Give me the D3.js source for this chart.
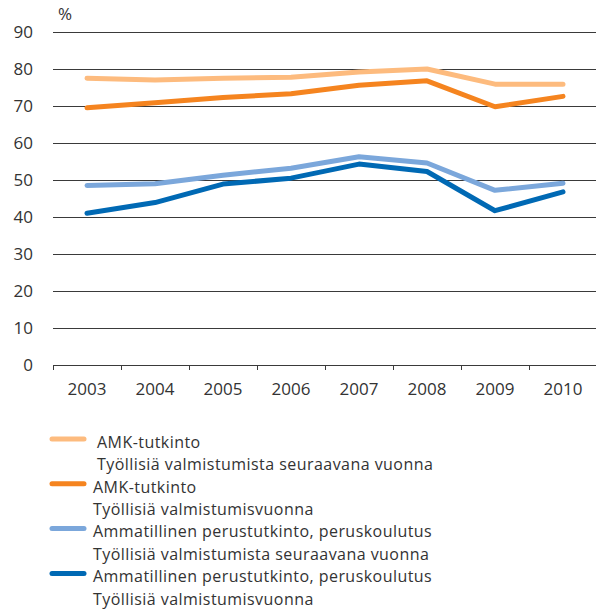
<!DOCTYPE html>
<html>
<head>
<meta charset="utf-8">
<script src="https://cdn.jsdelivr.net/npm/d3@7"></script>
<style>
  body { margin: 0; background: #fff; }
  text { font-family: "Open Sans", "DejaVu Sans", sans-serif; fill: #333; }
</style>
</head>
<body>
<svg id="chart" width="596" height="609"></svg>
<script>
// data
var years = ["2003", "2004", "2005", "2006", "2007", "2008", "2009", "2010"];
var amkNext = [77.5, 77.0, 77.5, 77.8, 79.2, 80.0, 75.9, 75.9];
var amkSame = [69.5, 70.9, 72.3, 73.3, 75.6, 76.8, 69.8, 72.6];
var ammNext = [48.5, 49.0, 51.3, 53.2, 56.3, 54.6, 47.2, 49.1];
var ammSame = [41.0, 43.9, 48.9, 50.5, 54.3, 52.3, 41.7, 46.8];
var yTicks = [0, 10, 20, 30, 40, 50, 60, 70, 80, 90];

var series = [
  { values: amkNext, color: "#fdbb7e", label: ["AMK-tutkinto", "Työllisiä valmistumista seuraavana vuonna"], dx: 4 },
  { values: amkSame, color: "#f5841f", label: ["AMK-tutkinto", "Työllisiä valmistumisvuonna"], dx: 0 },
  { values: ammNext, color: "#7ba7db", label: ["Ammatillinen perustutkinto, peruskoulutus", "Työllisiä valmistumista seuraavana vuonna"], dx: 0 },
  { values: ammSame, color: "#0069b4", label: ["Ammatillinen perustutkinto, peruskoulutus", "Työllisiä valmistumisvuonna"], dx: 0 }
];

var svg = d3.select("#chart");
var plotLeft = 53, plotRight = 597, plotTop = 32, plotBottom = 365;

var x = d3.scaleBand().domain(years).range([plotLeft, plotRight]);
var y = d3.scaleLinear().domain([0, 90]).range([plotBottom, plotTop]);

// gridlines
svg.append("g").selectAll("line").data(yTicks).join("line")
  .attr("x1", plotLeft).attr("x2", 596)
  .attr("y1", function(d) { return y(d) + 0.5; })
  .attr("y2", function(d) { return y(d) + 0.5; })
  .attr("stroke", "#3a3a3a").attr("stroke-width", 1.2);

// y labels
svg.append("g").selectAll("text").data(yTicks).join("text")
  .attr("x", 33).attr("y", function(d) { return y(d); })
  .attr("dy", "0.36em").attr("text-anchor", "end")
  .style("font-size", "17px")
  .text(function(d) { return d; });

svg.append("text").attr("x", 58).attr("y", 20)
  .style("font-size", "17px").text("%");

// x tick marks
var tickPos = years.map(function(d) { return x(d); });
svg.append("g").selectAll("line").data(tickPos).join("line")
  .attr("x1", function(d) { return d + 0.5; }).attr("x2", function(d) { return d + 0.5; })
  .attr("y1", plotBottom).attr("y2", plotBottom + 5)
  .attr("stroke", "#3a3a3a").attr("stroke-width", 1);

svg.append("g").selectAll("text").data(years).join("text")
  .attr("x", function(d) { return x(d) + x.bandwidth() / 2; })
  .attr("y", 395).attr("text-anchor", "middle")
  .style("font-size", "17px")
  .text(function(d) { return d; });

// lines
var line = d3.line()
  .x(function(d, i) { return x(years[i]) + x.bandwidth() / 2; })
  .y(function(d) { return y(d); });

svg.append("g").selectAll("path").data(series).join("path")
  .attr("d", function(d) { return line(d.values); })
  .attr("fill", "none")
  .attr("stroke", function(d) { return d.color; })
  .attr("stroke-width", 5)
  .attr("stroke-linecap", "round")
  .attr("stroke-linejoin", "round");

// legend
var leg = svg.append("g").selectAll("g").data(series).join("g")
  .attr("transform", function(d, i) { return "translate(0," + (442 + i * 44.8) + ")"; });

leg.append("line")
  .attr("x1", 52).attr("x2", 84).attr("y1", -3).attr("y2", -3)
  .attr("stroke", function(d) { return d.color; })
  .attr("stroke-width", 5).attr("stroke-linecap", "round");

leg.append("text")
  .attr("x", function(d) { return 93 + d.dx; }).attr("y", 0)
  .attr("dy", "0.36em")
  .style("font-size", "16px").style("letter-spacing", "0.45px")
  .text(function(d) { return d.label[0]; });

leg.append("text")
  .attr("x", function(d) { return 93 + d.dx; }).attr("y", 22.4)
  .attr("dy", "0.36em")
  .style("font-size", "16px").style("letter-spacing", "0.45px")
  .text(function(d) { return d.label[1]; });
</script>
</body>
</html>
